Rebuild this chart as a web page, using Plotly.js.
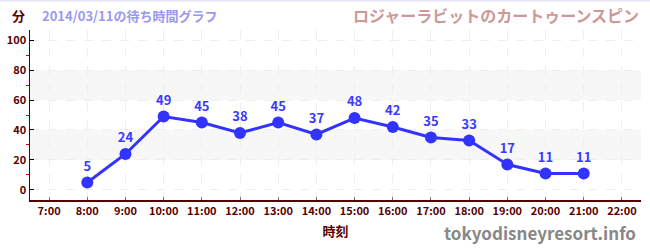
<!DOCTYPE html>
<html><head><meta charset="utf-8">
<script src="https://cdn.plot.ly/plotly-3.0.1.min.js"></script>
<style>body{margin:0;padding:0;background:#fff}#chart{width:650px;height:250px}</style>
</head><body><div id="chart"></div>
<script>
const hours = [8,9,10,11,12,13,14,15,16,17,18,19,20,21];
const waits = [5,24,49,45,38,45,37,48,42,35,33,17,11,11];
const tickHours = [7,8,9,10,11,12,13,14,15,16,17,18,19,20,21,22];
const tickLabels = tickHours.map(h => h + ':00');
const bands = [[20,40],[60,80]];
const attraction = 'ロジャーラビットのカートゥーンスピン';
const subtitle = '2014/03/11の待ち時間グラフ';

const F = '"Noto Sans CJK JP", "Noto Sans", sans-serif';
const dark = '#5a0000';

const trace = {
  x: hours, y: waits, mode: 'lines+markers+text', type: 'scatter',
  text: waits.map(String), textposition: 'top center',
  textfont: {family: F, size: 13, color: '#3a3aff', weight: 'bold'},
  line: {color: '#3333ff', width: 3},
  marker: {color: '#3333ff', size: 12},
  cliponaxis: false, hoverinfo: 'none'
};

const layout = {
  width: 650, height: 250,
  margin: {l: 30, r: 9, t: 30, b: 50},
  paper_bgcolor: '#fff', plot_bgcolor: '#fff',
  showlegend: false,
  font: {family: F},
  xaxis: {
    range: [6.5, 22.5], tickvals: tickHours, ticktext: tickLabels,
    showline: true, linecolor: dark, linewidth: 1.5,
    ticks: 'inside', ticklen: 3, tickcolor: '#777',
    showgrid: true, gridcolor: '#eeeeee', griddash: 'dash', gridwidth: 1,
    zeroline: false,
    tickfont: {family: F, size: 11, color: dark, weight: 'bold'},
    title: {text: '時刻', font: {family: F, size: 13, color: dark, weight: 'bold'}, standoff: 10}
  },
  yaxis: {
    range: [-6.7, 106.7], tickvals: [0,20,40,60,80,100],
    showline: true, linecolor: dark, linewidth: 1.5,
    ticks: 'inside', ticklen: 4, tickcolor: '#000',
    minor: {tickvals: [10,30,50,70,90], ticks: 'outside', ticklen: 3, tickcolor: '#dd0000', showgrid: false},
    showgrid: true, gridcolor: '#eeeeee', griddash: 'dash',
    zeroline: false,
    tickfont: {family: F, size: 11, color: dark, weight: 'bold'}
  },
  shapes: [
    ...bands.map(b => ({type: 'rect', xref: 'paper', yref: 'y', x0: 0, x1: 1, y0: b[0], y1: b[1],
      fillcolor: '#f7f7f7', line: {width: 0}, layer: 'below'})),
    {type: 'line', xref: 'paper', yref: 'paper', x0: -0.05, x1: 1.02, y0: 1.173, y1: 1.173, line: {color: '#e6e6fa', width: 2}}
  ],
  annotations: [
    {text: '分', xref: 'paper', yref: 'paper', x: -0.019, y: 1.088, xanchor: 'center', yanchor: 'middle', showarrow: false,
      font: {family: F, size: 13, color: dark, weight: 'bold'}},
    {text: subtitle, xref: 'paper', yref: 'paper', x: 0.016, y: 1.088, xanchor: 'left', yanchor: 'middle', showarrow: false,
      font: {family: F, size: 13, color: '#9999ee', weight: 'bold'}},
    {text: attraction, xref: 'paper', yref: 'paper', x: 1.0, y: 1.088, xanchor: 'right', yanchor: 'middle', showarrow: false,
      font: {family: F, size: 16, color: '#cc9999', weight: 'bold'}},
    {text: 'tokyodisneyresort.info', xref: 'paper', yref: 'paper', x: 0.995, y: -0.19, xanchor: 'right', yanchor: 'middle', showarrow: false,
      font: {family: F, size: 17, color: '#888888', weight: 'bold'}}
  ]
};

Plotly.newPlot('chart', [trace], layout, {staticPlot: true, displayModeBar: false});
</script></body></html>
